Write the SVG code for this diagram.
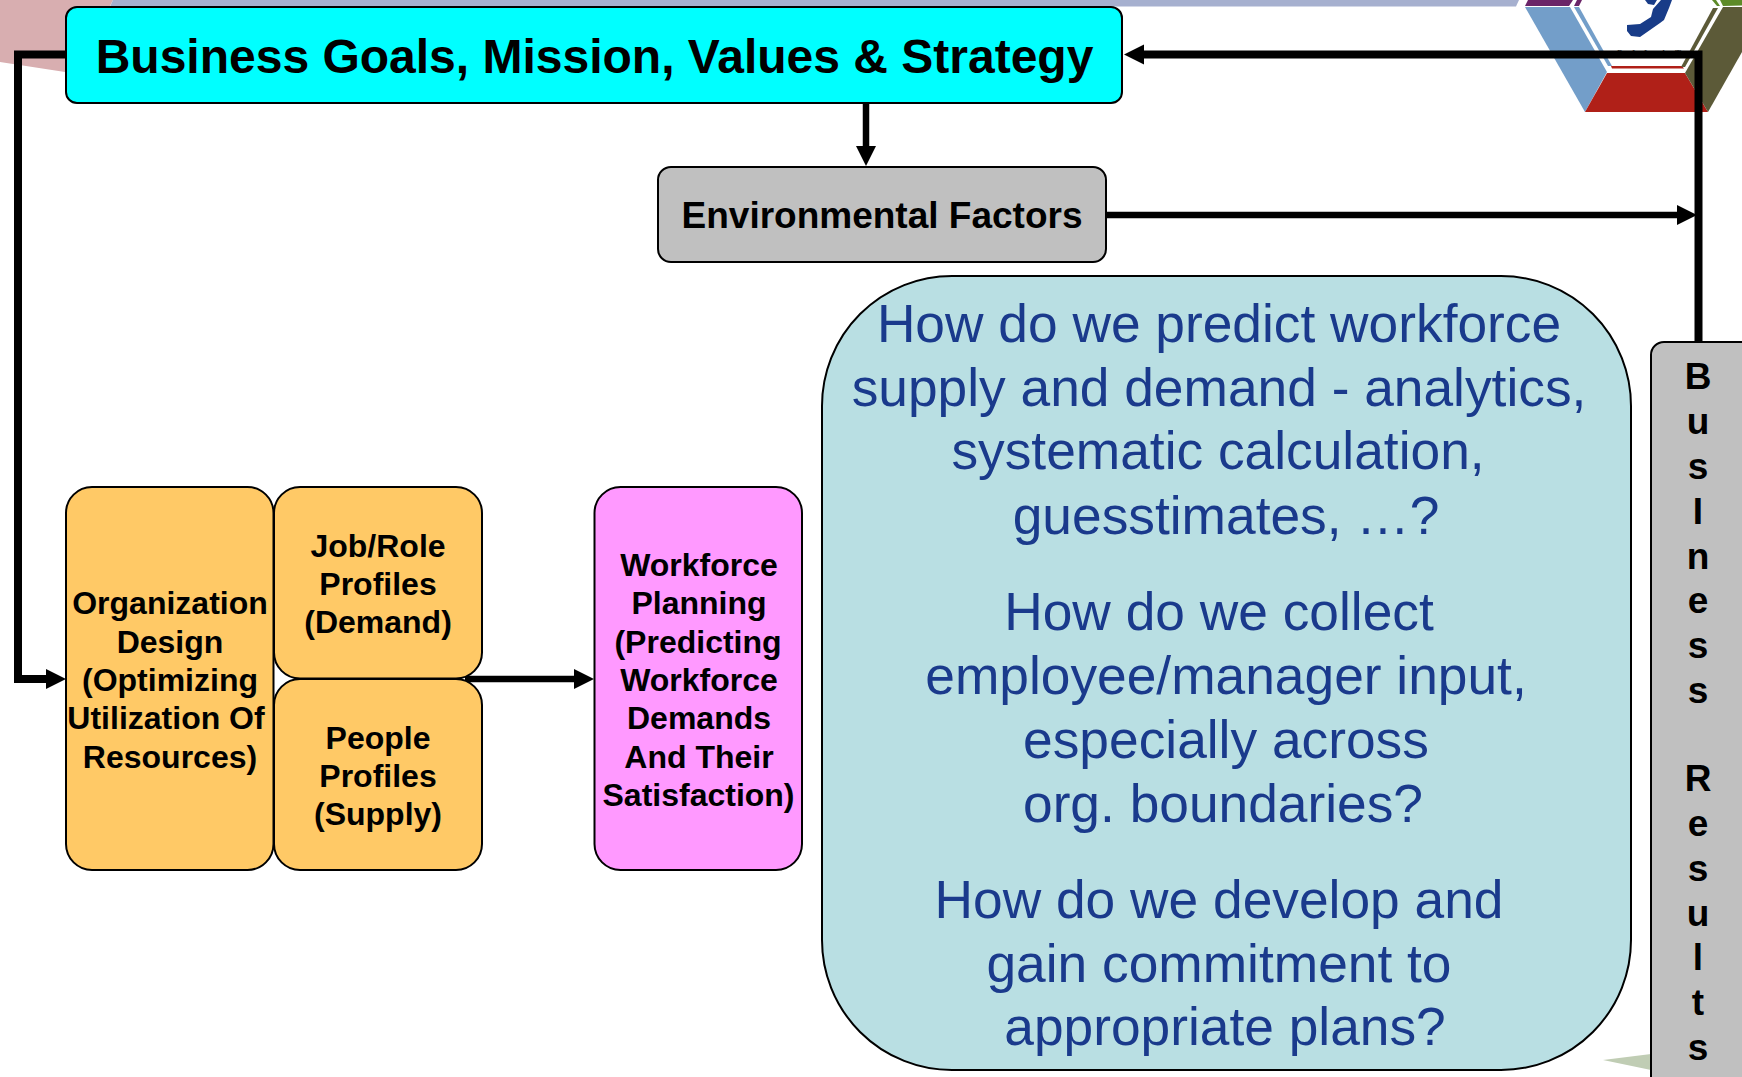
<svg xmlns="http://www.w3.org/2000/svg" width="1742" height="1077" viewBox="0 0 1742 1077">
<style>
.n{stroke:#000;stroke-width:2}
.b{font-family:"Liberation Sans",Arial,sans-serif;font-weight:700;fill:#000;text-anchor:middle}
.s{font-size:32px}
.q{font-family:"Liberation Sans",Arial,sans-serif;font-size:53.3px;fill:#1a3a8c;text-anchor:middle}
.v{font-size:37px}
.c{fill:none;stroke:#000;stroke-width:6.5}
.t{stroke-width:8}
</style>
<defs><marker id="a" markerUnits="userSpaceOnUse" markerWidth="20" markerHeight="22" refX="10" refY="11" orient="auto"><path d="M0 1L20 11L0 21Z" fill="#000"/></marker></defs>
<g id="background">
<path d="M0 0H113L109 8L65 72L0 62Z" fill="#d8aeb0"/>
<path d="M113 0H1519L1516 6.500H110Z" fill="#a6b0cf"/>
<path d="M1525 7H1570L1607 72L1585 112Z" fill="#739ec9"/>
<path d="M1525 6L1528 0H1573L1569 6Z" fill="#6b2468"/>
<path d="M1574 6L1577 0H1582L1579 6Z" fill="#6b2468"/>
<path d="M1574 7H1579L1612 66H1608Z" fill="#739ec9"/>
<path d="M1607 73H1685L1708 112H1585Z" fill="#b02018"/>
<path d="M1611 66H1682L1684 68.500H1612Z" fill="#b02018"/>
<path d="M1723 7H1742V52L1708 112L1685 73Z" fill="#5c5a38"/>
<path d="M1713 8H1718L1685 67H1681Z" fill="#5c5a38"/>
<path d="M1720 0H1742V5.500L1723 6Z" fill="#5d8a28"/>
<path d="M1712 0H1716L1720 6H1717Z" fill="#5d8a28"/>
<path d="M1661 0H1672L1669 8L1664 20L1660 23L1650 30L1640 37L1631 36L1627 31V25L1640 24L1651 17L1653 9Z" fill="#183c88"/>
<path d="M1645 0H1657L1654 5L1648 4Z" fill="#183c88"/>
<text x="1617 1632 1644 1660 1675" y="57" font-family="'Liberation Serif',serif" font-size="10" fill="#444">PILAT</text>
<path d="M1603 1060L1651 1054V1070Z" fill="#c0cdb4"/>
</g>
<g id="connectors">
<path class="c t" d="M66 54.500H18V679H56" marker-end="url(#a)"/>
<path class="c t" d="M1698.500 342V54.500H1134" marker-end="url(#a)"/>
<path class="c" d="M866 103V156" marker-end="url(#a)"/>
<path class="c" d="M1107 215H1687" marker-end="url(#a)"/>
<path class="c" d="M465 679H584" marker-end="url(#a)"/>
</g>
<g id="goals"><rect class="n" x="66" y="7" width="1056" height="96" rx="11" fill="#00ffff"/><text class="b" x="594.500" y="73" font-size="48">Business Goals, Mission, Values &amp; Strategy</text></g>
<g id="environment"><rect class="n" x="658" y="167" width="448" height="95" rx="13" fill="#c0c0c0"/><text class="b" x="882" y="228" font-size="37">Environmental Factors</text></g>
<g id="questions"><rect class="n" x="822" y="276" width="809" height="794" rx="130" fill="#b9dfe3"/>
<text class="q" x="1219" y="342">How do we predict workforce</text>
<text class="q" x="1219" y="406">supply and demand - analytics,</text>
<text class="q" x="1218" y="469">systematic calculation,</text>
<text class="q" x="1226" y="534">guesstimates, …?</text>
<text class="q" x="1219" y="630">How do we collect</text>
<text class="q" x="1226" y="694">employee/manager input,</text>
<text class="q" x="1226" y="758">especially across</text>
<text class="q" x="1223" y="822">org. boundaries?</text>
<text class="q" x="1219" y="918">How do we develop and</text>
<text class="q" x="1219" y="982">gain commitment to</text>
<text class="q" x="1225" y="1045">appropriate plans?</text></g>
<g id="results"><rect class="n" x="1651" y="342" width="110" height="748" rx="13" fill="#c0c0c0"/>
<text class="b v" x="1698" y="389">B</text><text class="b v" x="1698" y="434">u</text><text class="b v" x="1698" y="479">s</text><text class="b v" x="1698" y="524">I</text><text class="b v" x="1698" y="569">n</text><text class="b v" x="1698" y="613">e</text><text class="b v" x="1698" y="658">s</text><text class="b v" x="1698" y="703">s</text><text class="b v" x="1698" y="791">R</text><text class="b v" x="1698" y="836">e</text><text class="b v" x="1698" y="881">s</text><text class="b v" x="1698" y="926">u</text><text class="b v" x="1698" y="970">l</text><text class="b v" x="1698" y="1015">t</text><text class="b v" x="1698" y="1060">s</text></g>
<g id="org"><rect class="n" x="66" y="487" width="207.500" height="383" rx="26" fill="#ffc966"/>
<text class="b s" x="170" y="614">Organization</text><text class="b s" x="170" y="653">Design</text><text class="b s" x="170" y="691">(Optimizing</text><text class="b s" x="166" y="729">Utilization Of</text><text class="b s" x="170" y="768">Resources)</text></g>
<g id="job"><rect class="n" x="274" y="487" width="208" height="191.500" rx="26" fill="#ffc966"/>
<text class="b s" x="378" y="557">Job/Role</text><text class="b s" x="378" y="595">Profiles</text><text class="b s" x="378" y="633">(Demand)</text></g>
<g id="people"><rect class="n" x="274" y="679" width="208" height="191" rx="26" fill="#ffc966"/>
<text class="b s" x="378" y="749">People</text><text class="b s" x="378" y="787">Profiles</text><text class="b s" x="378" y="825">(Supply)</text></g>
<g id="planning"><rect class="n" x="594.500" y="487" width="207.500" height="383" rx="26" fill="#ff99ff"/>
<text class="b s" x="699" y="576">Workforce</text><text class="b s" x="699" y="614">Planning</text><text class="b s" x="698" y="653">(Predicting</text><text class="b s" x="699" y="691">Workforce</text><text class="b s" x="699" y="729">Demands</text><text class="b s" x="699" y="768">And Their</text><text class="b s" x="698.500" y="806">Satisfaction)</text></g>
</svg>
